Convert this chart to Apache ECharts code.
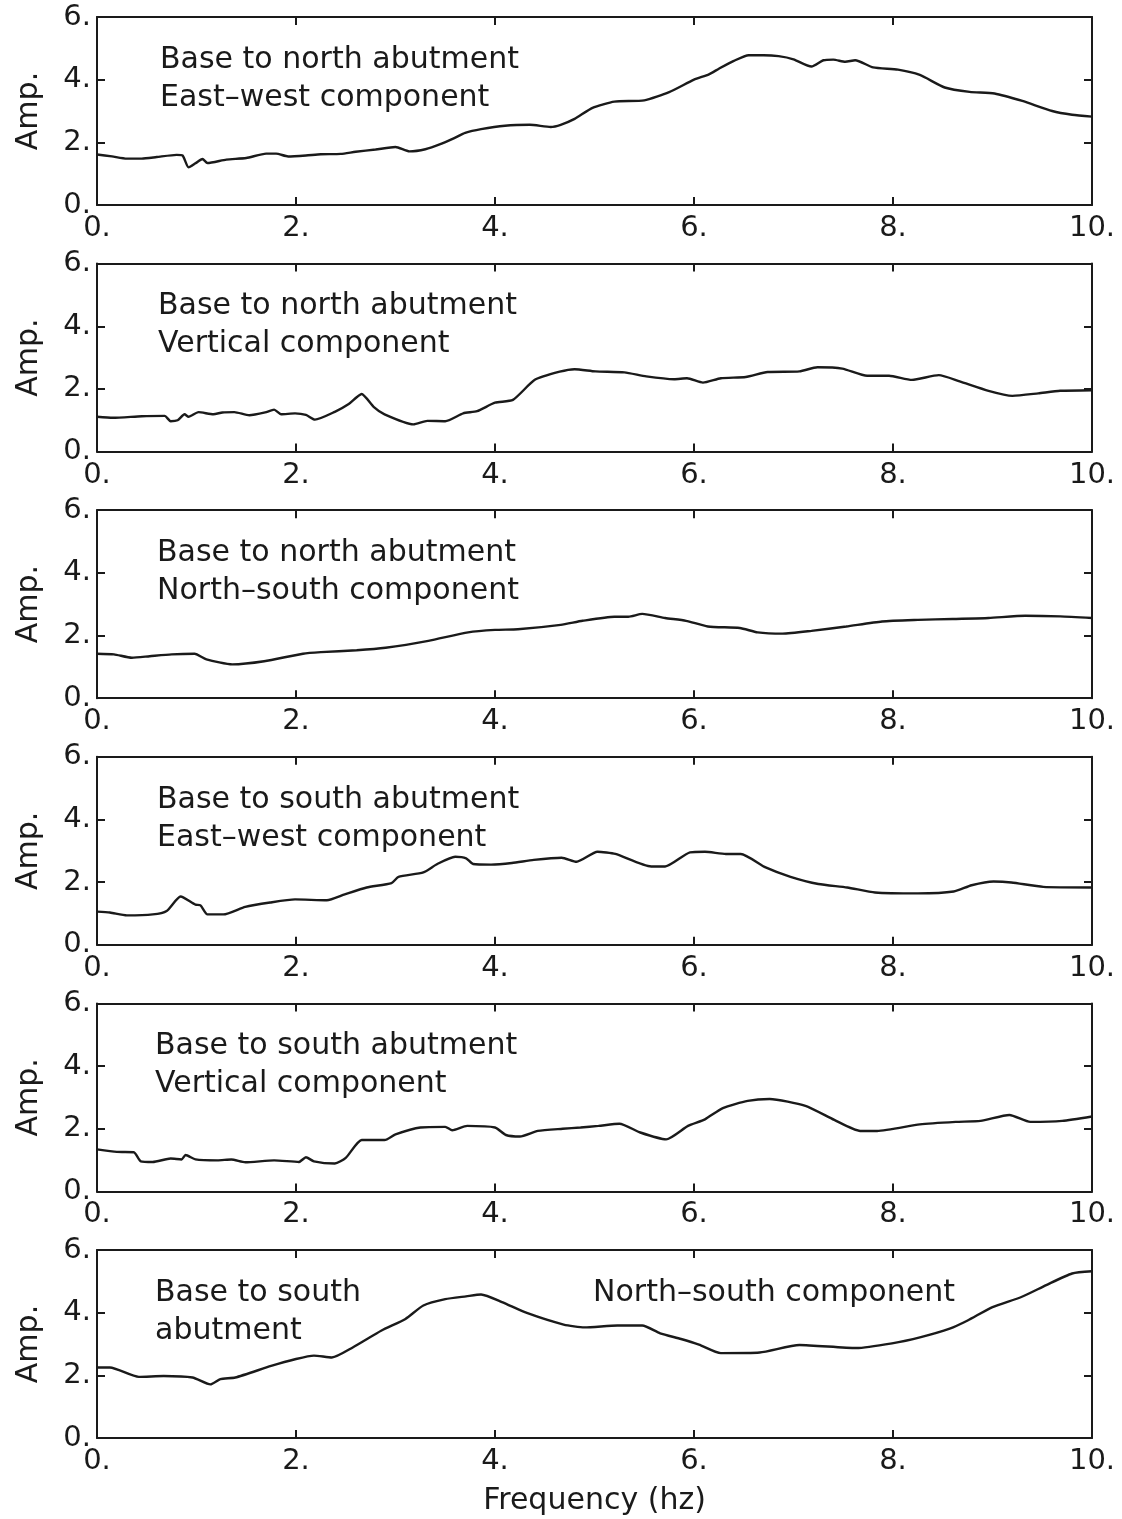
<!DOCTYPE html>
<html>
<head>
<meta charset="utf-8">
<script src="https://cdn.jsdelivr.net/npm/echarts@6.0.0/dist/echarts.min.js"></script>
<style>
html, body { margin: 0; background: #fff; }
#chart { width: 1122px; height: 1519px; }
</style>
</head>
<body>
<div id="chart"></div>
<script>
// 讀圖得到的頻譜比(frequency hz, amplitude),每個面板一組
const northEW = [[0,1.61],[0.15,1.55],[0.3,1.48],[0.45,1.48],[0.6,1.53],[0.8,1.6],[0.86,1.58],[0.92,1.2],[0.99,1.33],[1.06,1.47],[1.11,1.34],[1.3,1.45],[1.5,1.5],[1.7,1.64],[1.8,1.64],[1.92,1.55],[2.1,1.58],[2.25,1.62],[2.45,1.63],[2.6,1.7],[2.8,1.77],[3.0,1.85],[3.14,1.71],[3.3,1.78],[3.45,1.94],[3.6,2.15],[3.7,2.3],[3.86,2.42],[4.1,2.53],[4.35,2.56],[4.56,2.49],[4.66,2.56],[4.8,2.75],[4.98,3.1],[5.2,3.3],[5.5,3.34],[5.75,3.6],[6.0,4.0],[6.15,4.17],[6.25,4.35],[6.4,4.6],[6.55,4.78],[6.7,4.78],[6.85,4.75],[7.0,4.65],[7.18,4.42],[7.3,4.62],[7.4,4.64],[7.52,4.57],[7.62,4.62],[7.8,4.39],[8.05,4.32],[8.27,4.15],[8.52,3.75],[8.77,3.61],[9.02,3.56],[9.3,3.32],[9.6,3.0],[9.8,2.88],[10,2.82]];
const northVert = [[0,1.11],[0.16,1.08],[0.45,1.13],[0.68,1.14],[0.74,0.97],[0.81,1.0],[0.88,1.19],[0.92,1.11],[1.02,1.26],[1.17,1.19],[1.26,1.25],[1.38,1.26],[1.53,1.16],[1.69,1.25],[1.78,1.34],[1.85,1.19],[1.99,1.22],[2.1,1.17],[2.19,1.02],[2.39,1.27],[2.53,1.52],[2.66,1.84],[2.78,1.43],[2.89,1.19],[3.18,0.87],[3.32,0.98],[3.5,0.97],[3.68,1.22],[3.82,1.29],[4.0,1.56],[4.18,1.65],[4.4,2.29],[4.65,2.55],[4.8,2.63],[5.01,2.56],[5.3,2.53],[5.52,2.4],[5.8,2.31],[5.93,2.34],[6.09,2.2],[6.27,2.34],[6.52,2.38],[6.74,2.54],[7.06,2.56],[7.24,2.69],[7.49,2.65],[7.74,2.42],[7.96,2.42],[8.19,2.29],[8.46,2.44],[8.67,2.24],[8.96,1.94],[9.2,1.78],[9.46,1.86],[9.68,1.94],[10,1.96]];
const northNS = [[0,1.42],[0.17,1.4],[0.35,1.29],[0.53,1.34],[0.75,1.4],[0.98,1.42],[1.1,1.24],[1.36,1.08],[1.68,1.18],[2.07,1.42],[2.25,1.47],[2.61,1.53],[2.9,1.61],[3.33,1.83],[3.73,2.1],[4.0,2.18],[4.23,2.2],[4.66,2.34],[4.88,2.47],[5.2,2.6],[5.34,2.6],[5.48,2.69],[5.71,2.56],[5.92,2.47],[6.14,2.29],[6.46,2.24],[6.64,2.1],[6.89,2.06],[7.18,2.15],[7.53,2.29],[7.89,2.45],[8.25,2.5],[8.6,2.53],[8.96,2.56],[9.33,2.63],[9.68,2.61],[10,2.56]];
const southEW = [[0,1.06],[0.13,1.03],[0.3,0.94],[0.56,0.97],[0.7,1.08],[0.84,1.54],[0.99,1.28],[1.04,1.26],[1.11,0.97],[1.27,0.97],[1.49,1.21],[1.74,1.35],[1.99,1.45],[2.31,1.42],[2.49,1.61],[2.71,1.83],[2.96,1.97],[3.03,2.17],[3.28,2.31],[3.42,2.58],[3.6,2.81],[3.71,2.76],[3.78,2.58],[3.96,2.56],[4.17,2.61],[4.39,2.71],[4.67,2.78],[4.82,2.65],[5.03,2.97],[5.21,2.9],[5.57,2.5],[5.71,2.5],[5.96,2.95],[6.11,2.97],[6.32,2.9],[6.47,2.9],[6.72,2.47],[6.97,2.17],[7.25,1.94],[7.54,1.83],[7.82,1.67],[8.25,1.64],[8.61,1.7],[8.79,1.9],[9.01,2.02],[9.19,1.99],[9.51,1.85],[10,1.83]];
const southVert = [[0,1.34],[0.2,1.26],[0.37,1.25],[0.44,0.96],[0.56,0.94],[0.74,1.05],[0.85,1.02],[0.89,1.16],[0.99,1.02],[1.21,0.99],[1.35,1.02],[1.49,0.93],[1.78,0.99],[2.03,0.94],[2.1,1.09],[2.18,0.96],[2.39,0.89],[2.5,1.07],[2.66,1.64],[2.89,1.64],[3.0,1.82],[3.25,2.04],[3.5,2.06],[3.57,1.95],[3.72,2.09],[4.0,2.04],[4.11,1.8],[4.25,1.75],[4.43,1.93],[4.68,2.0],[4.86,2.04],[5.04,2.09],[5.25,2.16],[5.46,1.88],[5.72,1.66],[5.94,2.09],[6.11,2.3],[6.29,2.66],[6.54,2.89],[6.76,2.95],[7.12,2.73],[7.41,2.28],[7.67,1.93],[7.84,1.93],[8.27,2.14],[8.63,2.22],[8.88,2.25],[9.17,2.44],[9.38,2.22],[9.7,2.25],[10,2.39]];
const southNS = [[0,2.25],[0.13,2.25],[0.42,1.95],[0.67,1.98],[0.96,1.93],[1.14,1.71],[1.24,1.88],[1.39,1.93],[1.75,2.3],[2.0,2.52],[2.18,2.63],[2.36,2.57],[2.57,2.89],[2.86,3.43],[3.1,3.8],[3.28,4.23],[3.5,4.43],[3.71,4.52],[3.86,4.58],[4.07,4.34],[4.32,3.99],[4.69,3.62],[4.9,3.53],[5.23,3.59],[5.48,3.59],[5.66,3.34],[5.87,3.16],[6.05,2.98],[6.27,2.71],[6.66,2.73],[7.06,2.97],[7.63,2.87],[7.99,3.02],[8.28,3.22],[8.57,3.49],[8.75,3.75],[9.0,4.18],[9.29,4.5],[9.54,4.88],[9.8,5.25],[10,5.32]];

const xTickLabels = ['0.', '2.', '4.', '6.', '8.', '10.'];
const yTickLabels = ['0.', '2.', '4.', '6.'];

const panelSeries = [northEW, northVert, northNS, southEW, southVert, southNS];
const panelNotes = [
  ['Base to north abutment', 'East–west component'],
  ['Base to north abutment', 'Vertical component'],
  ['Base to north abutment', 'North–south component'],
  ['Base to south abutment', 'East–west component'],
  ['Base to south abutment', 'Vertical component'],
  ['Base to south', 'abutment'],
];
const lastPanelSideNote = 'North–south component';

// 版面
const FONT = 'DejaVu Sans';
const INK = '#1a1a1a';
const LEFT = 97, RIGHT = 30, TOP0 = 17, STEP = 246.6, H = 188;
const noteX = [160, 158, 157, 157, 155, 155];

const frame = { show: true, onZero: false, lineStyle: { color: INK, width: 2 } };
const tick = { show: true, inside: true, length: 8, lineStyle: { color: INK, width: 2 } };

const grids = [], xAxes = [], yAxes = [], series = [], graphics = [];

panelSeries.forEach((data, i) => {
  const top = TOP0 + i * STEP;
  const last = i === panelSeries.length - 1;
  grids.push({ left: LEFT, right: RIGHT, top, height: H });

  const xBase = { type: 'value', gridIndex: i, min: 0, max: 10, interval: 2, axisLine: frame, axisTick: tick, splitLine: { show: false } };
  xAxes.push({
    ...xBase, position: 'bottom',
    axisLabel: { formatter: (v) => xTickLabels[Math.round(v / 2)], fontSize: 29, fontFamily: FONT, color: INK, margin: 9 },
    name: last ? 'Frequency (hz)' : '', nameLocation: 'middle', nameGap: 48,
    nameTextStyle: { fontSize: 30, fontFamily: FONT, color: INK },
  });
  xAxes.push({ ...xBase, position: 'top', axisLabel: { show: false } });

  const yBase = { type: 'value', gridIndex: i, min: 0, max: 6, interval: 2, axisLine: frame, axisTick: tick, splitLine: { show: false } };
  yAxes.push({
    ...yBase, position: 'left',
    axisLabel: { formatter: (v) => yTickLabels[Math.round(v / 2)], fontSize: 29, fontFamily: FONT, color: INK, margin: 6 },
    name: 'Amp.', nameLocation: 'middle', nameGap: 53, nameRotate: 90,
    nameTextStyle: { fontSize: 30, fontFamily: FONT, color: INK },
  });
  yAxes.push({ ...yBase, position: 'right', axisLabel: { show: false } });

  series.push({
    type: 'line', xAxisIndex: 2 * i, yAxisIndex: 2 * i, data,
    showSymbol: false, smooth: 0.2, silent: true,
    lineStyle: { color: INK, width: 2.4 },
  });

  panelNotes[i].forEach((text, k) => {
    graphics.push({
      type: 'text', x: noteX[i], y: top + 43 + k * 38,
      style: { text, font: `30px "${FONT}"`, fill: INK, verticalAlign: 'middle' },
    });
  });
  if (last) {
    graphics.push({
      type: 'text', x: 593, y: top + 43,
      style: { text: lastPanelSideNote, font: `30px "${FONT}"`, fill: INK, verticalAlign: 'middle' },
    });
  }
});

const chart = echarts.init(document.getElementById('chart'), null, { renderer: 'canvas' });
chart.setOption({
  animation: false,
  backgroundColor: '#fff',
  grid: grids,
  xAxis: xAxes,
  yAxis: yAxes,
  series,
  graphic: graphics,
});
</script>
</body>
</html>
